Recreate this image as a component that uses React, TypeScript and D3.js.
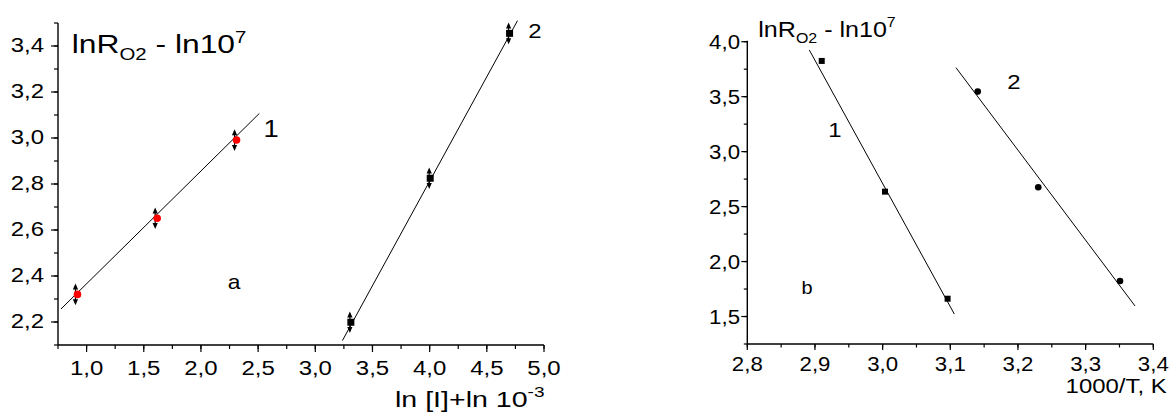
import React from "react";
import * as d3 from "d3";

// ---------- Panel a data ----------
const aSeries1X = [0.916, 1.613, 2.307];
const aSeries1Y = [2.32, 2.651, 2.991];
const aSeries2X = [3.311, 4.005, 4.699];
const aSeries2Y = [2.199, 2.825, 3.455];
const aErr = 0.047;
const aFit1 = [[0.776, 2.2565], [2.511, 3.107]];
const aFit2 = [[3.237, 2.119], [4.768, 3.51]];
const aXTicks = [1.0, 1.5, 2.0, 2.5, 3.0, 3.5, 4.0, 4.5, 5.0];
const aYTicks = [2.2, 2.4, 2.6, 2.8, 3.0, 3.2, 3.4];
const aXDomain = [0.75, 5.0];
const aYDomain = [2.1, 3.5];

// ---------- Panel b data ----------
const bSeries1X = [2.91, 3.0035, 3.096];
const bSeries1Y = [3.825, 2.636, 1.662];
const bSeries2X = [3.1405, 3.23, 3.3508];
const bSeries2Y = [3.546, 2.676, 1.823];
const bFit1 = [[2.8916, 3.925], [3.1059, 1.523]];
const bFit2 = [[3.1084, 3.764], [3.373, 1.596]];
const bXTicks = [2.8, 2.9, 3.0, 3.1, 3.2, 3.3, 3.4];
const bYTicks = [1.5, 2.0, 2.5, 3.0, 3.5, 4.0];
const bXDomain = [2.8, 3.4];
const bYDomain = [1.25, 4.0];

const FONT = "'Liberation Sans', Arial, sans-serif";
const SX = 1.14;
const fmt = (v: number) => d3.format(".1f")(v).replace(".", ",");

function T({ x, y, size, anchor = "start", sx = SX, children }: any) {
  return (
    <text
      transform={`translate(${x},${y}) scale(${sx},1)`}
      fontSize={size}
      textAnchor={anchor}
      fontFamily={FONT}
      fill="#000"
    >
      {children}
    </text>
  );
}

function Arrow({ x, y1, y2 }: { x: number; y1: number; y2: number }) {
  const w = 2.6, h = 6;
  return (
    <g>
      <line x1={x} x2={x} y1={y1 + 2} y2={y2 - 2} stroke="#000" strokeWidth={1.2} />
      <path d={`M${x},${y1} L${x - w},${y1 + h} L${x + w},${y1 + h} Z`} fill="#000" />
      <path d={`M${x},${y2} L${x - w},${y2 - h} L${x + w},${y2 - h} Z`} fill="#000" />
    </g>
  );
}

export default function App() {
  const xA = d3.scaleLinear(aXDomain, [58, 544]);
  const yA = d3.scaleLinear(aYDomain, [345, 23]);
  const xB = d3.scaleLinear(bXDomain, [747.3, 1153.3]);
  const yB = d3.scaleLinear(bYDomain, [344, 41.7]);

  const aXMinor = d3.range(aXDomain[0], aXDomain[1] + 1e-9, 0.25);
  const aYMinor = d3.range(aYDomain[0], aYDomain[1] + 1e-9, 0.1);
  const bXMinor = d3.range(bXDomain[0], bXDomain[1] + 1e-9, 0.05);
  const bYMinor = d3.range(bYDomain[0], bYDomain[1] + 1e-9, 0.25);

  const line = (s: any, xs: any, ys: any) =>
    d3.line<number[]>().x((d) => xs(d[0])).y((d) => ys(d[1]))(s) || "";

  const axisStroke = 1.4;

  return (
    <svg
      width={1171}
      height={414}
      style={{ position: "absolute", left: 0, top: 0, background: "#fff" }}
    >
      <rect width={1171} height={414} fill="#fff" />

      {/* ===== Panel a ===== */}
      <g>
        <line x1={xA(aXDomain[0])} x2={xA(aXDomain[1])} y1={yA(aYDomain[0])} y2={yA(aYDomain[0])} stroke="#000" strokeWidth={axisStroke} />
        <line x1={xA(aXDomain[0])} x2={xA(aXDomain[0])} y1={yA(aYDomain[0])} y2={yA(aYDomain[1])} stroke="#000" strokeWidth={axisStroke} />
        {aXMinor.map((v, i) => (
          <line key={"axm" + i} x1={xA(v)} x2={xA(v)} y1={yA(aYDomain[0])} y2={yA(aYDomain[0]) + 4} stroke="#000" strokeWidth={1.2} />
        ))}
        {aXTicks.map((v, i) => (
          <g key={"axt" + i}>
            <line x1={xA(v)} x2={xA(v)} y1={yA(aYDomain[0])} y2={yA(aYDomain[0]) + 7} stroke="#000" strokeWidth={1.2} />
            <T x={xA(v)} y={375} size={20.5} sx={1.17} anchor="middle">{fmt(v)}</T>
          </g>
        ))}
        {aYMinor.map((v, i) => (
          <line key={"aym" + i} x1={xA(aXDomain[0]) - 4} x2={xA(aXDomain[0])} y1={yA(v)} y2={yA(v)} stroke="#000" strokeWidth={1.2} />
        ))}
        {aYTicks.map((v, i) => (
          <g key={"ayt" + i}>
            <line x1={xA(aXDomain[0]) - 7} x2={xA(aXDomain[0])} y1={yA(v)} y2={yA(v)} stroke="#000" strokeWidth={1.2} />
            <T x={44} y={yA(v) + 6} size={21} anchor="end">{fmt(v)}</T>
          </g>
        ))}

        <path d={line(aFit1, xA, yA)} stroke="#000" strokeWidth={1} fill="none" />
        <path d={line(aFit2, xA, yA)} stroke="#000" strokeWidth={1} fill="none" />

        {aSeries2X.map((v, i) => (
          <g key={"as2" + i}>
            <rect x={xA(v) - 3.5} y={yA(aSeries2Y[i]) - 3.5} width={7} height={7} fill="#000" />
            <Arrow x={xA(v) - 1} y1={yA(aSeries2Y[i] + aErr)} y2={yA(aSeries2Y[i] - aErr)} />
          </g>
        ))}
        {aSeries1X.map((v, i) => (
          <g key={"as1" + i}>
            <Arrow x={xA(v) - 1.5} y1={yA(aSeries1Y[i] + aErr)} y2={yA(aSeries1Y[i] - aErr)} />
            <circle cx={xA(v) + 0.5} cy={yA(aSeries1Y[i])} r={3.8} fill="#ff0000" />
          </g>
        ))}

        <T x={71.7} y={53} size={26.5} sx={1.2}>
          lnR<tspan fontSize={17} dy={7}>O2</tspan>
          <tspan dy={-7}> - ln10</tspan>
          <tspan fontSize={17} dy={-10.5}>7</tspan>
        </T>
        <T x={271} y={136.5} size={24} anchor="middle">1</T>
        <T x={535} y={38.3} size={21} anchor="middle">2</T>
        <T x={234} y={289.3} size={20} anchor="middle">a</T>
        <T x={395} y={407.3} size={22.5} sx={1.27}>
          ln [I]+ln 10<tspan fontSize={15} dy={-10.5}>-3</tspan>
        </T>
      </g>

      {/* ===== Panel b ===== */}
      <g>
        <line x1={xB(bXDomain[0])} x2={xB(bXDomain[1])} y1={yB(bYDomain[0])} y2={yB(bYDomain[0])} stroke="#000" strokeWidth={axisStroke} />
        <line x1={xB(bXDomain[0])} x2={xB(bXDomain[0])} y1={yB(bYDomain[0])} y2={yB(bYDomain[1]) - 1} stroke="#000" strokeWidth={axisStroke} />
        {bXMinor.map((v, i) => (
          <line key={"bxm" + i} x1={xB(v)} x2={xB(v)} y1={yB(bYDomain[0])} y2={yB(bYDomain[0]) + 3.5} stroke="#000" strokeWidth={1.2} />
        ))}
        {bXTicks.map((v, i) => (
          <g key={"bxt" + i}>
            <line x1={xB(v)} x2={xB(v)} y1={yB(bYDomain[0])} y2={yB(bYDomain[0]) + 6} stroke="#000" strokeWidth={1.2} />
            <T x={xB(v)} y={371} size={19.5} anchor="middle">{fmt(v)}</T>
          </g>
        ))}
        {bYMinor.map((v, i) => (
          <line key={"bym" + i} x1={xB(bXDomain[0]) - 3.5} x2={xB(bXDomain[0])} y1={yB(v)} y2={yB(v)} stroke="#000" strokeWidth={1.2} />
        ))}
        {bYTicks.map((v, i) => (
          <g key={"byt" + i}>
            <line x1={xB(bXDomain[0]) - 6} x2={xB(bXDomain[0])} y1={yB(v)} y2={yB(v)} stroke="#000" strokeWidth={1.2} />
            <T x={740} y={yB(v) + 7} size={19.5} anchor="end">{fmt(v)}</T>
          </g>
        ))}

        <path d={line(bFit1, xB, yB)} stroke="#000" strokeWidth={1} fill="none" />
        <path d={line(bFit2, xB, yB)} stroke="#000" strokeWidth={1} fill="none" />

        {bSeries1X.map((v, i) => (
          <rect key={"bs1" + i} x={xB(v) - 3} y={yB(bSeries1Y[i]) - 3} width={6} height={6} fill="#000" />
        ))}
        {bSeries2X.map((v, i) => (
          <circle key={"bs2" + i} cx={xB(v)} cy={yB(bSeries2Y[i])} r={3.3} fill="#000" />
        ))}

        <T x={758.3} y={36.7} size={22}>
          lnR<tspan fontSize={14} dy={6}>O2</tspan>
          <tspan dy={-6}> - ln10</tspan>
          <tspan fontSize={14} dy={-10}>7</tspan>
        </T>
        <T x={835} y={136.7} size={21} anchor="middle">1</T>
        <T x={1014} y={89} size={21} anchor="middle">2</T>
        <T x={807} y={294.3} size={17.5} anchor="middle">b</T>
        <T x={1166.7} y={393.3} size={21} anchor="end">1000/T, K</T>
      </g>
    </svg>
  );
}
